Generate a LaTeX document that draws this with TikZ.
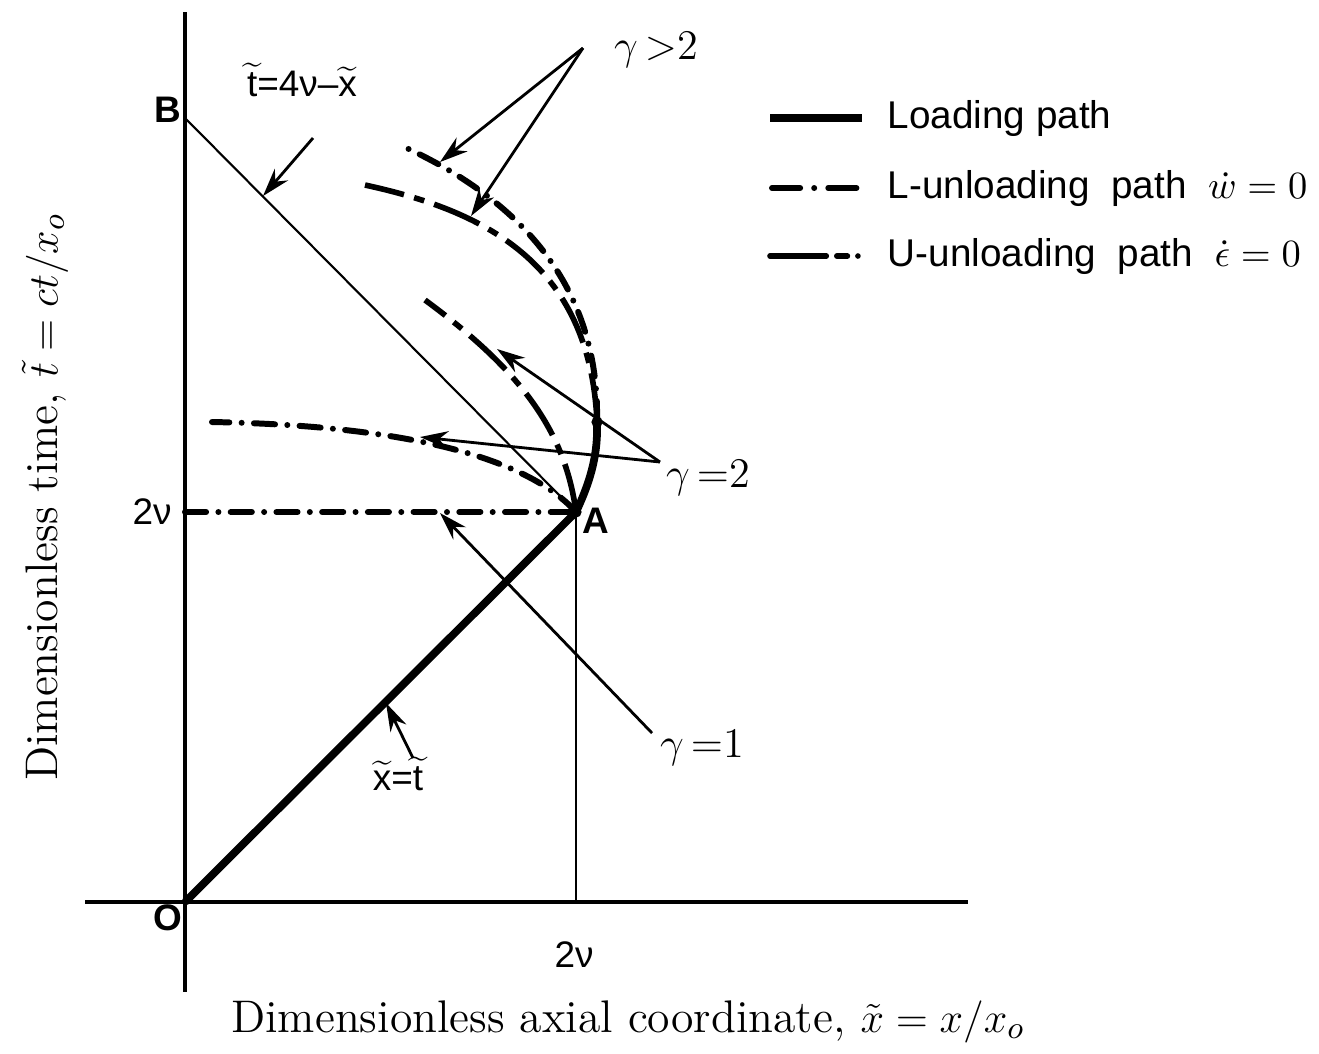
\documentclass[tikz,border=0pt]{standalone}
\usepackage{fontspec}
\newfontfamily\labelsf{Liberation Sans}
\usetikzlibrary{arrows.meta}
\newcommand{\wtil}[1]{$\widetilde{\hbox{\labelsf #1}}$}
\begin{document}
\begin{tikzpicture}[x=0.01cm,y=-0.01cm,axis/.style={line width=1.3pt},loading/.style={line width=2.2pt},guide/.style={line width=0.6pt},lunload/.style={line width=1.7pt,line cap=round,dash pattern=on 6pt off 3.5pt on 0pt off 3.5pt},uunload/.style={line width=1.6pt,dash pattern=on 14pt off 3pt on 3pt off 3pt},pointer/.style={line width=0.8pt,-{Stealth[length=8pt,width=5pt]}},tag/.style={font=\labelsf\fontsize{10.5}{12}\selectfont,inner sep=1pt},point/.style={font=\labelsf\bfseries\fontsize{10.5}{12}\selectfont,inner sep=1pt},gam/.style={font=\fontsize{12}{14}\selectfont,inner sep=1pt},legtext/.style={font=\labelsf\fontsize{11}{13}\selectfont,anchor=west,inner sep=0pt},axlabel/.style={font=\fontsize{13}{15}\selectfont,inner sep=0pt}]
\useasboundingbox (0,0) rectangle (1319,1053);
\coordinate (O) at (185,902);
\coordinate (A) at (576,512);
\coordinate (B) at (185,118);
\coordinate (P) at (597,422);
\coordinate (Xa) at (576,902);
\coordinate (Yl) at (185,512);
\coordinate (ytop) at (185,12);
\coordinate (ybot) at (185,992);
\coordinate (xleft) at (85,902);
\coordinate (xright) at (968,902);
\coordinate (lend3) at (400,145);
\coordinate (uend3) at (365,185);
\coordinate (uend2) at (425,300);
\coordinate (lend2) at (212,422);
\draw[axis] (ytop) -- (ybot);
\draw[axis] (xleft) -- (xright);
\draw[guide] (B) -- (A);
\draw[guide] (A) -- (Xa);
\draw[lunload] (Yl) -- (A);
\draw[loading] (O) -- (A);
\draw[loading] (A) .. controls (592,478) and (598,452) .. (P);
\draw[lunload] (P) .. controls (600,270) and (500,190) .. (lend3);
\draw[uunload] (P) .. controls (590,260) and (480,210) .. (uend3);
\draw[uunload] (A) .. controls (565,430) and (520,370) .. (uend2);
\draw[lunload] (A) .. controls (520,450) and (380,425) .. (lend2);
\fill (A) circle[radius=1.6pt];
\fill (P) circle[radius=1.6pt];
\node[point] (tB) at (168,110) {B};
\node[point] (tO) at (168,918) {O};
\node[point] (tA) at (596,521) {A};
\node[tag] (nuy) at (152,512) {2ν};
\node[tag] (nux) at (574,955) {2ν};
\node[tag] (tline) at (302,80) {\wtil{t}=4ν–\wtil{x}};
\node[tag] (tdiag) at (398,774) {\wtil{x}=\wtil{t}};
\node[gam] (ggt) at (656,50) {$\gamma\,{>}2$};
\node[gam] (geq2) at (708,478) {$\gamma\,{=}2$};
\node[gam] (geq1) at (702,748) {$\gamma\,{=}1$};
\coordinate (g3s) at (583,48);
\coordinate (g3a) at (440,162);
\coordinate (g3b) at (471,216);
\coordinate (g2s) at (660,462);
\coordinate (g2a) at (497,349);
\coordinate (g2b) at (420,437);
\coordinate (g1s) at (652,733);
\coordinate (g1a) at (440,513);
\coordinate (bas) at (313,138);
\coordinate (baa) at (263,196);
\coordinate (dgs) at (413,758);
\coordinate (dga) at (386,703);
\draw[pointer] (g3s) -- (g3a);
\draw[pointer] (g3s) -- (g3b);
\draw[pointer] (g2s) -- (g2a);
\draw[pointer] (g2s) -- (g2b);
\draw[pointer] (g1s) -- (g1a);
\draw[pointer] (bas) -- (baa);
\draw[pointer] (dgs) -- (dga);
\coordinate (lg1a) at (770,118);
\coordinate (lg1b) at (862,118);
\coordinate (lg2a) at (772,188);
\coordinate (lg2b) at (862,188);
\coordinate (lg3a) at (770,256);
\coordinate (lg3b) at (862,256);
\draw[loading] (lg1a) -- (lg1b);
\draw[lunload,dash pattern=on 8pt off 4pt on 0pt off 4pt on 8pt off 20pt] (lg2a) -- (lg2b);
\draw[uunload,line cap=round,dash pattern=on 16pt off 3pt on 3pt off 3pt on 0pt off 20pt] (lg3a) -- (lg3b);
\node[legtext] (leg1) at (887,118) {Loading path};
\node[legtext] (leg2) at (887,188) {L-unloading\ \ path\ \ $\dot w = 0$};
\node[legtext] (leg3) at (887,256) {U-unloading\ \ path\ \ $\dot\epsilon = 0$};
\node[axlabel,rotate=90] (ylab) at (45,497) {Dimensionless time, $\tilde t = ct/x_o$};
\node[axlabel] (xlab) at (628,1022) {Dimensionless axial coordinate, $\tilde x = x/x_o$};
\end{tikzpicture}
\end{document}
